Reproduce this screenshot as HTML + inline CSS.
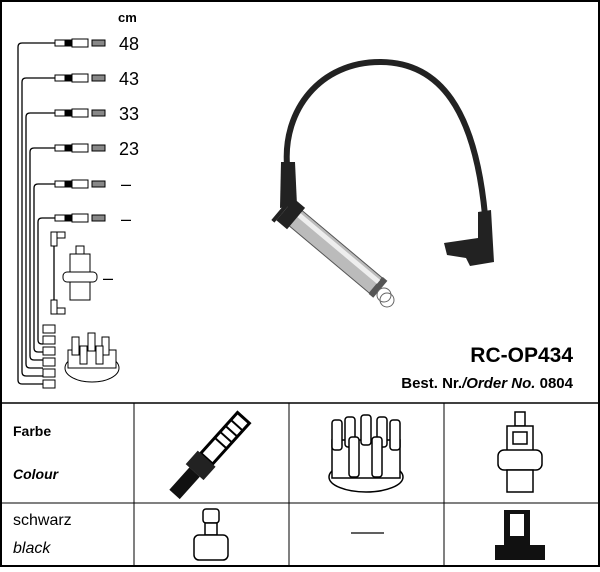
<!DOCTYPE html>
<html><head><style>
body{margin:0;width:600px;height:567px;background:#fff;overflow:hidden}
text{font-family:"Liberation Sans",sans-serif}
</style></head><body>
<svg width="600" height="567" viewBox="0 0 600 567" xmlns="http://www.w3.org/2000/svg">
<rect x="1" y="1" width="598" height="565" fill="none" stroke="#000" stroke-width="2"/>
<line x1="0" y1="403" x2="600" y2="403" stroke="#000" stroke-width="1.5"/>
<line x1="0" y1="503" x2="600" y2="503" stroke="#000" stroke-width="1"/>
<line x1="134" y1="403" x2="134" y2="567" stroke="#000"/>
<line x1="289" y1="403" x2="289" y2="567" stroke="#000"/>
<line x1="444" y1="403" x2="444" y2="567" stroke="#000"/>

<text x="118" y="22" font-size="13" font-weight="bold">cm</text>
<g font-size="18">
<text x="119" y="50">48</text><text x="119" y="85">43</text><text x="119" y="120">33</text><text x="119" y="155">23</text>
<text x="121" y="190">–</text><text x="121" y="225">–</text><text x="103" y="284">–</text>
</g>

<g fill="none" stroke="#000" stroke-width="1.3">
<path d="M55 43 H22 Q18 43 18 47 V380 Q18 384 22 384 H43"/>
<path d="M55 78 H26 Q22 78 22 82 V372 Q22 376 26 376 H43"/>
<path d="M55 113 H30 Q26 113 26 117 V364 Q26 368 30 368 H43"/>
<path d="M55 148 H34 Q30 148 30 152 V356 Q30 360 34 360 H43"/>
<path d="M55 184 H38 Q34 184 34 188 V348 Q34 352 38 352 H43"/>
<path d="M55 218 H42 Q38 218 38 222 V340 Q38 344 42 344 H43"/>
<path d="M54 245 V300"/>
</g>
<g stroke="#000" stroke-width="1" fill="#fff">
<g transform="translate(0,43)"><rect x="55" y="-3" width="10" height="6"/><rect x="65" y="-3" width="6" height="6" fill="#000"/><rect x="72" y="-4" width="16" height="8"/><rect x="92" y="-3" width="13" height="6" fill="#888"/></g>
<g transform="translate(0,78)"><rect x="55" y="-3" width="10" height="6"/><rect x="65" y="-3" width="6" height="6" fill="#000"/><rect x="72" y="-4" width="16" height="8"/><rect x="92" y="-3" width="13" height="6" fill="#888"/></g>
<g transform="translate(0,113)"><rect x="55" y="-3" width="10" height="6"/><rect x="65" y="-3" width="6" height="6" fill="#000"/><rect x="72" y="-4" width="16" height="8"/><rect x="92" y="-3" width="13" height="6" fill="#888"/></g>
<g transform="translate(0,148)"><rect x="55" y="-3" width="10" height="6"/><rect x="65" y="-3" width="6" height="6" fill="#000"/><rect x="72" y="-4" width="16" height="8"/><rect x="92" y="-3" width="13" height="6" fill="#888"/></g>
<g transform="translate(0,184)"><rect x="55" y="-3" width="10" height="6"/><rect x="65" y="-3" width="6" height="6" fill="#000"/><rect x="72" y="-4" width="16" height="8"/><rect x="92" y="-3" width="13" height="6" fill="#888"/></g>
<g transform="translate(0,218)"><rect x="55" y="-3" width="10" height="6"/><rect x="65" y="-3" width="6" height="6" fill="#000"/><rect x="72" y="-4" width="16" height="8"/><rect x="92" y="-3" width="13" height="6" fill="#888"/></g>
<rect x="51" y="232" width="6" height="14"/><rect x="57" y="232" width="8" height="6"/>
<rect x="51" y="300" width="6" height="14"/><rect x="57" y="308" width="8" height="6"/>
<rect x="43" y="325" width="12" height="8"/><rect x="43" y="336" width="12" height="8"/><rect x="43" y="347" width="12" height="8"/>
<rect x="43" y="358" width="12" height="8"/><rect x="43" y="369" width="12" height="8"/><rect x="43" y="380" width="12" height="8"/>
<rect x="76" y="246" width="8" height="8"/><rect x="70" y="254" width="20" height="20"/><rect x="63" y="272" width="34" height="10" rx="4"/><rect x="70" y="282" width="20" height="18"/>
<ellipse cx="92" cy="368" rx="27" ry="14"/><rect x="68" y="350" width="48" height="18"/>
<rect x="72" y="337" width="7" height="18"/><rect x="88" y="333" width="7" height="18"/><rect x="102" y="337" width="7" height="18"/><rect x="80" y="346" width="7" height="18"/><rect x="96" y="346" width="7" height="18"/>
</g>

<path d="M287 165 C283 110 320 62 380 62 C440 62 475 110 485 215" fill="none" stroke="#222" stroke-width="6"/>
<path d="M281 162 L295 162 L297 205 L280 208 Z" fill="#222"/>
<g transform="rotate(40 293 216)">
<rect x="293" y="206" width="108" height="20" fill="#bbb" stroke="#555"/>
<rect x="293" y="209" width="108" height="5" fill="#eee"/>
<rect x="283" y="202" width="14" height="28" fill="#222"/>
<rect x="279" y="199" width="4" height="34" fill="#222"/>
<rect x="401" y="205" width="6" height="22" fill="#555"/>
</g>
<circle cx="384" cy="295" r="7" fill="none" stroke="#666"/>
<circle cx="387" cy="300" r="7" fill="none" stroke="#666"/>
<path d="M478 212 L491 210 L494 262 L470 266 L466 258 L447 255 L444 243 L478 238 Z" fill="#222"/>

<text x="573" y="362" font-size="21" font-weight="bold" text-anchor="end">RC-OP434</text>
<text x="573" y="388" font-size="15" font-weight="bold" text-anchor="end">Best. Nr.<tspan font-style="italic">/Order No.</tspan> 0804</text>

<text x="13" y="436" font-size="14" font-weight="bold">Farbe</text>
<text x="13" y="479" font-size="14" font-weight="bold" font-style="italic">Colour</text>
<text x="13" y="525" font-size="16">schwarz</text>
<text x="13" y="553" font-size="16" font-style="italic">black</text>

<g transform="rotate(42 210 455)">
<rect x="202" y="405" width="16" height="55" fill="#fff" stroke="#000" stroke-width="3"/>
<line x1="202" y1="415" x2="218" y2="415" stroke="#000" stroke-width="2"/><line x1="202" y1="423" x2="218" y2="423" stroke="#000" stroke-width="2"/><line x1="202" y1="431" x2="218" y2="431" stroke="#000" stroke-width="2"/><line x1="202" y1="439" x2="218" y2="439" stroke="#000" stroke-width="2"/>
<rect x="198" y="460" width="24" height="18" fill="#222"/><rect x="203" y="478" width="14" height="30" fill="#111"/>
</g>
<g stroke="#000" stroke-width="1.5" fill="#fff">
<ellipse cx="366" cy="477" rx="37" ry="15"/><rect x="332" y="440" width="68" height="38"/>
<rect x="332" y="420" width="10" height="30" rx="3"/><rect x="345" y="417" width="10" height="30" rx="3"/><rect x="361" y="415" width="10" height="30" rx="3"/><rect x="377" y="417" width="10" height="30" rx="3"/><rect x="390" y="420" width="10" height="30" rx="3"/>
<rect x="349" y="437" width="10" height="40" rx="3"/><rect x="372" y="437" width="10" height="40" rx="3"/>
</g>
<g stroke="#000" stroke-width="1.5" fill="#fff">
<rect x="515" y="412" width="10" height="14"/><rect x="507" y="426" width="26" height="26"/><rect x="513" y="432" width="14" height="12"/>
<rect x="498" y="450" width="44" height="20" rx="6"/><rect x="507" y="470" width="26" height="22"/>
</g>
<g stroke="#000" stroke-width="1.5" fill="#fff">
<rect x="203" y="509" width="16" height="14" rx="3"/><rect x="205" y="523" width="12" height="12"/>
<rect x="194" y="535" width="34" height="25" rx="5"/>
</g>
<line x1="351" y1="533" x2="384" y2="533" stroke="#000" stroke-width="1.3"/>
<path d="M504 510 H530 V545 H545 V560 H495 V545 H504 Z" fill="#111"/>
<rect x="510" y="514" width="14" height="22" fill="#fff"/>
</svg>
</body></html>
